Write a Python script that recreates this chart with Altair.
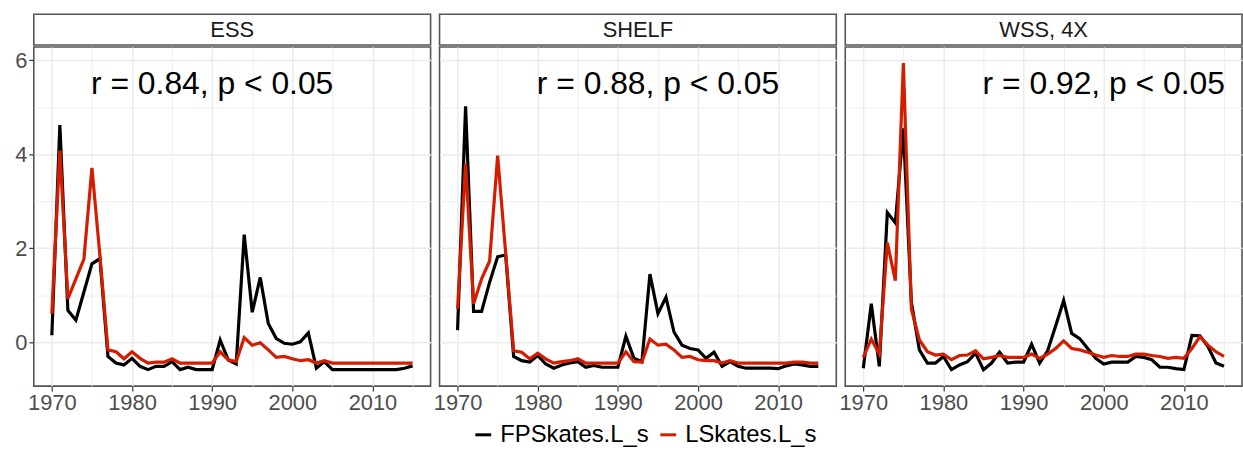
import altair as alt
import pandas as pd

years = list(range(1970, 2016))
regions = ["ESS", "SHELF", "WSS, 4X"]
series_names = ["FPSkates.L_s", "LSkates.L_s"]
series_colors = ["#000000", "#D41C00"]

ess_fp = [0.15, 4.62, 0.68, 0.47, 1.07, 1.67, 1.78, -0.30, -0.44, -0.48,
          -0.34, -0.51, -0.58, -0.51, -0.51, -0.41, -0.58, -0.53, -0.58, -0.58,
          -0.58, 0.05, -0.37, -0.46, 2.29, 0.64, 1.38, 0.40, 0.08, -0.02,
          -0.04, 0.01, 0.20, -0.55, -0.41, -0.58, -0.58, -0.58, -0.58, -0.58,
          -0.58, -0.58, -0.58, -0.58, -0.55, -0.50]
ess_l = [0.61, 4.08, 0.93, 1.35, 1.77, 3.71, 1.84, -0.16, -0.20, -0.35,
         -0.20, -0.34, -0.44, -0.42, -0.42, -0.35, -0.44, -0.44, -0.44, -0.44,
         -0.44, -0.20, -0.37, -0.41, 0.10, -0.06, -0.01, -0.16, -0.32, -0.30,
         -0.35, -0.39, -0.37, -0.44, -0.39, -0.44, -0.44, -0.44, -0.44, -0.44,
         -0.44, -0.44, -0.44, -0.44, -0.44, -0.44]

shelf_fp = [0.26, 5.02, 0.66, 0.66, 1.28, 1.82, 1.86, -0.30, -0.39, -0.42,
            -0.28, -0.46, -0.55, -0.48, -0.44, -0.41, -0.53, -0.49, -0.53, -0.53,
            -0.53, 0.13, -0.34, -0.41, 1.45, 0.61, 0.96, 0.22, -0.06, -0.13,
            -0.16, -0.34, -0.21, -0.51, -0.41, -0.51, -0.55, -0.55, -0.55, -0.55,
            -0.56, -0.50, -0.46, -0.48, -0.51, -0.51]
shelf_l = [0.71, 3.80, 0.82, 1.35, 1.73, 3.97, 1.90, -0.18, -0.21, -0.35,
           -0.23, -0.35, -0.44, -0.41, -0.39, -0.35, -0.44, -0.44, -0.44, -0.44,
           -0.44, -0.20, -0.41, -0.42, 0.07, -0.06, -0.04, -0.16, -0.32, -0.30,
           -0.37, -0.39, -0.39, -0.44, -0.39, -0.44, -0.44, -0.44, -0.44, -0.44,
           -0.44, -0.44, -0.42, -0.42, -0.44, -0.44]

wss_fp = [-0.55, 0.82, -0.51, 2.76, 2.54, 4.55, 0.85, -0.16, -0.44, -0.44,
          -0.30, -0.58, -0.48, -0.41, -0.23, -0.58, -0.44, -0.21, -0.44, -0.42,
          -0.42, -0.04, -0.44, -0.18, 0.35, 0.89, 0.19, 0.08, -0.13, -0.34,
          -0.46, -0.42, -0.42, -0.42, -0.30, -0.32, -0.37, -0.53, -0.53, -0.56,
          -0.58, 0.15, 0.14, -0.09, -0.44, -0.51]
wss_l = [-0.32, 0.07, -0.25, 2.12, 1.31, 5.94, 0.71, 0.05, -0.20, -0.27,
         -0.25, -0.37, -0.28, -0.27, -0.18, -0.35, -0.32, -0.28, -0.32, -0.32,
         -0.32, -0.25, -0.34, -0.25, -0.13, 0.03, -0.13, -0.16, -0.21, -0.27,
         -0.32, -0.28, -0.30, -0.30, -0.25, -0.25, -0.28, -0.30, -0.34, -0.32,
         -0.34, -0.13, 0.12, -0.06, -0.20, -0.30]

r_labels = ["r = 0.84, p < 0.05", "r = 0.88, p < 0.05", "r = 0.92, p < 0.05"]
r_label_year = [1990, 1995, 2000]
r_label_value = [5.5, 5.5, 5.5]

fp_series = [ess_fp, shelf_fp, wss_fp]
l_series = [ess_l, shelf_l, wss_l]

rows = []
for region, fp, ls in zip(regions, fp_series, l_series):
    for name, vals in zip(series_names, (fp, ls)):
        for yr, v in zip(years, vals):
            rows.append({"region": region, "series": name, "year": yr, "value": v})
df = pd.DataFrame(rows)

FONT = "Liberation Sans"
PANEL_W = 399
PANEL_H = 341
STRIP_H = 31

x_scale = alt.Scale(domain=[1967.75, 2017.25], nice=False, zero=False)
y_scale = alt.Scale(domain=[-0.93, 6.28], nice=False, zero=False)
color_scale = alt.Scale(domain=series_names, range=series_colors)

minor_x = "datum.value % 10 !== 0"
minor_y = "datum.value % 2 !== 0"


def x_axis():
    return alt.Axis(
        values=list(range(1970, 2016, 5)), format="d",
        labelExpr=f"{minor_x} ? '' : datum.label",
        grid=True, gridColor="#EBEBEB",
        gridWidth={"condition": {"test": minor_x, "value": 0.8}, "value": 1.5},
        domain=False, tickColor="#333333", tickSize=5, tickWidth=1.2,
        tickOpacity={"condition": {"test": minor_x, "value": 0}, "value": 1},
        labelFont=FONT, labelFontSize=22, labelColor="#4D4D4D", labelPadding=2,
        title=None, minExtent=0,
    )


def y_axis(show):
    if show:
        return alt.Axis(
            values=list(range(0, 7)),
            labelExpr=f"{minor_y} ? '' : datum.label",
            grid=True, gridColor="#EBEBEB",
            gridWidth={"condition": {"test": minor_y, "value": 0.8}, "value": 1.5},
            domain=False, tickColor="#333333", tickSize=5, tickWidth=1.2,
            tickOpacity={"condition": {"test": minor_y, "value": 0}, "value": 1},
            labelFont=FONT, labelFontSize=22, labelColor="#4D4D4D", labelPadding=2,
            title=None, minExtent=0,
        )
    return alt.Axis(
        values=list(range(0, 7)), labels=False, ticks=False, domain=False,
        grid=True, gridColor="#EBEBEB",
        gridWidth={"condition": {"test": minor_y, "value": 0.8}, "value": 1.5},
        title=None, minExtent=0,
    )


legend = alt.Legend(
    title=None, orient="none", legendX=440, legendY=411, direction="horizontal",
    symbolType="stroke", symbolStrokeWidth=3, symbolSize=256, labelFont=FONT,
    labelFontSize=24, labelColor="#000000", columnPadding=5, labelOffset=5,
    padding=0,
)


def panel(i):
    region = regions[i]
    lines = alt.Chart(df[df.region == region]).mark_line(strokeWidth=3.2).encode(
        x=alt.X("year:Q", scale=x_scale, axis=x_axis()),
        y=alt.Y("value:Q", scale=y_scale, axis=y_axis(i == 0)),
        color=alt.Color("series:N", scale=color_scale, sort=series_names, legend=legend),
    )
    note_df = pd.DataFrame({"year": [r_label_year[i]], "value": [r_label_value[i]],
                            "label": [r_labels[i]]})
    note = alt.Chart(note_df).mark_text(font=FONT, fontSize=32, color="#000000").encode(
        x=alt.X("year:Q", scale=x_scale),
        y=alt.Y("value:Q", scale=y_scale),
        text="label:N",
    )
    plot = alt.layer(lines, note).properties(width=PANEL_W, height=PANEL_H)
    # facet strip: one nominal band so the view frame is drawn around the label
    strip = alt.Chart(pd.DataFrame({"region": [region]})).mark_text(
        font=FONT, fontSize=22, color="#1A1A1A", baseline="middle"
    ).encode(
        x=alt.X("region:N", axis=None),
        text="region:N",
    ).properties(width=PANEL_W, height=STRIP_H)
    return alt.vconcat(strip, plot, spacing=0)


# the first tick label of each panel hangs ~5px past its left edge,
# which already supplies the gap between panels
chart = alt.hconcat(*[panel(i) for i in range(3)], spacing=0).properties(
    padding={"left": 13, "top": 12, "right": 0, "bottom": 0},
    background="white",
).configure_view(
    stroke="#555555", strokeWidth=1.6
)

chart.save("out.html", embed_options={"renderer": "svg", "actions": False})
